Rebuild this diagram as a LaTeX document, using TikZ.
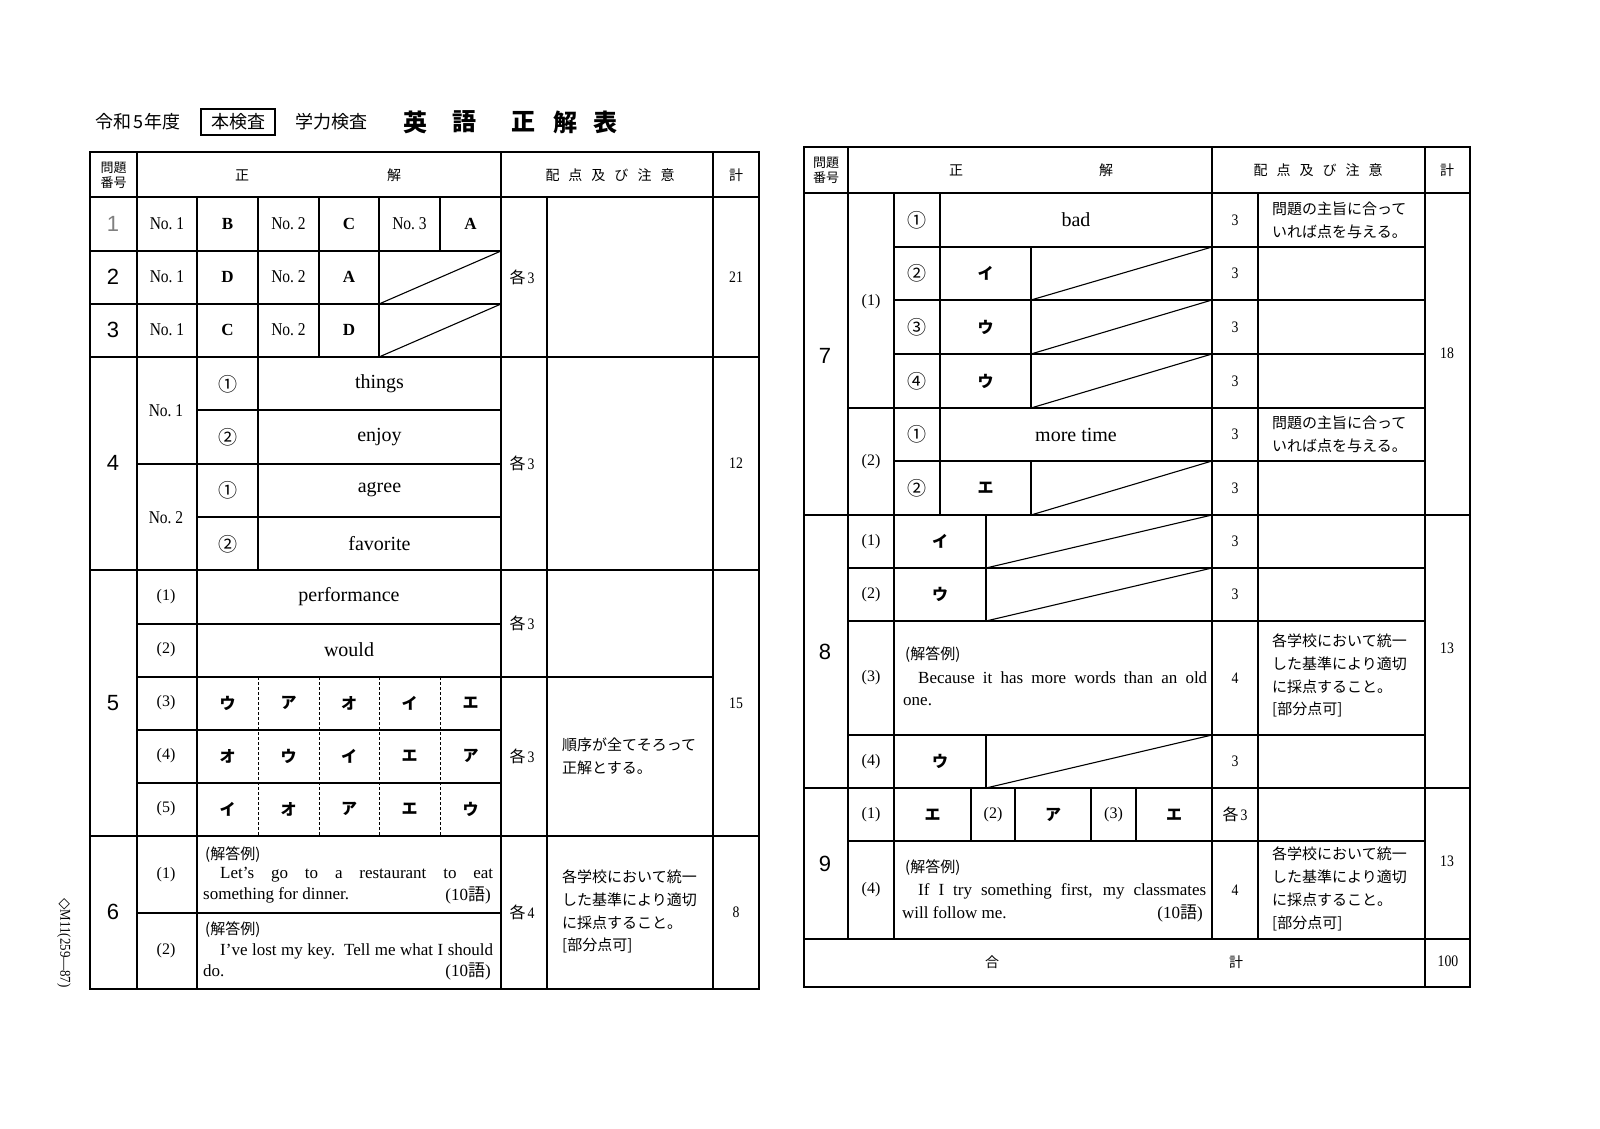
\documentclass[tikz,border=0pt]{standalone}
\usepackage{fontspec}
\setmainfont{Liberation Serif}
\newfontfamily\jp{Noto Sans CJK JP}
\newfontfamily\gs{Liberation Sans}
\newfontfamily\nar{Liberation Serif}[FakeStretch=0.86]
\newfontfamily\dvs{DejaVu Sans}
\tikzset{
  ln/.style={line width=1.1pt},
  lnm/.style={line width=1.5pt},
  lnb/.style={line width=2.4pt},
  lnd/.style={line width=0.8pt, dash pattern=on 3pt off 2pt},
  tx/.style={inner sep=0pt, anchor=center},
  lab/.style={tx, font=\nar\fontsize{18}{18}\selectfont},
  bl/.style={tx, font=\bfseries\fontsize{17}{17}\selectfont},
  wrd/.style={tx, font=\fontsize{20}{20}\selectfont},
  big/.style={tx, font=\gs\fontsize{22}{22}\selectfont},
  kana/.style={tx, font=\jp\bfseries\fontsize{16}{16}\selectfont},
  circ/.style={tx, font=\jp\fontsize{19}{19}\selectfont},
  sub/.style={tx, font=\fontsize{16}{16}\selectfont},
  pts/.style={tx, font=\nar\fontsize{16}{16}\selectfont},
  hdr/.style={tx, font=\jp\fontsize{14}{14}\selectfont},
  hdrq/.style={tx, align=center, font=\jp\fontsize{13}{15}\selectfont},
  note/.style={inner sep=0pt, anchor=west, align=left, font=\jp\fontsize{15}{22.9}\selectfont},
  engl/.style={inner sep=0pt, anchor=west, font=\fontsize{17}{17}\selectfont},
  engr/.style={inner sep=0pt, anchor=east, font=\fontsize{17}{17}\selectfont},
  exl/.style={inner sep=0pt, anchor=west, font=\jp\fontsize{15}{15}\selectfont},
  ttl/.style={tx, font=\jp\fontsize{18}{18}\selectfont},
  ttlb/.style={tx, font=\jp\bfseries\fontsize{24}{24}\selectfont},
}
\newcommand{\kaku}[1]{{\jp 各}\hspace{2pt}#1}
\newcommand{\tenw}{(10{\jp 語})}
\newcommand{\bubun}{{[}部分点可{]}}
\begin{document}
\begin{tikzpicture}[x=1pt,y=-1pt]
\useasboundingbox (0,0) rectangle (1600,1129);
\fill[white] (0,0) rectangle (1600,1129);

% ---------- title ----------
\node[ttl] (t0) at (138,122) {令和\hspace{2pt}5\hspace{2pt}年度};
\draw[ln] (201,109) rectangle (275,135);
\node[ttl] (t1) at (238,122) {本検査};
\node[ttl] (t2) at (331,122) {学力検査};
\node[ttlb] (t3) at (415,122) {英};
\node[ttlb] (t4) at (464,122) {語};
\node[ttlb] (t5) at (523,122) {正};
\node[ttlb] (t6) at (565,122) {解};
\node[ttlb] (t7) at (605,122) {表};

% ---------- left table lines ----------
\draw[ln] (547,197) -- (547,989);
\draw[ln] (713,152) -- (713,989);
\draw[ln] (197,197) -- (197,357) (258,197) -- (258,357) (319,197) -- (319,357)
          (379,197) -- (379,357) (440,197) -- (440,251);
\draw[ln] (379,304) -- (501,251) (379,357) -- (501,304);
\draw[ln] (197,357) -- (197,570) (258,357) -- (258,570);
\draw[ln] (197,410) -- (501,410) (137,464) -- (501,464) (197,517) -- (501,517);
\draw[ln] (197,570) -- (197,836);
\draw[ln] (137,624) -- (501,624) (137,677) -- (713,677) (137,730) -- (501,730) (137,783) -- (501,783);
\draw[lnd] (258,677) -- (258,836) (319,677) -- (319,836) (379,677) -- (379,836) (440,677) -- (440,836);
\draw[ln] (197,836) -- (197,989) (137,913) -- (501,913);
\draw[lnm] (137,152) -- (137,989);
\draw[lnb] (501,152) -- (501,989);
\draw[lnb] (90,197) -- (759,197);
\draw[lnb] (90,251) -- (501,251) (90,304) -- (501,304);
\draw[lnb] (90,357) -- (759,357) (90,570) -- (759,570) (90,836) -- (759,836);
\draw[lnb] (90,152) rectangle (759,989);

% ---------- left table header ----------
\node[hdrq] (lh1) at (113.5,175) {問題\\番号};
\node[hdr] (lh2) at (242,175) {正};
\node[hdr] (lh3) at (394,175) {解};
\node[hdr] (lh4) at (610,175) {配\hspace{9pt}点\hspace{9pt}及\hspace{9pt}び\hspace{9pt}注\hspace{9pt}意};
\node[hdr] (lh5) at (736,175) {計};

% ---------- rows 1-3 ----------
\node[big, text=gray] (q1) at (113,224) {1};
\node[lab] (q1a) at (167,224) {No.\ 1};
\node[bl] (q1b) at (227.5,224) {B};
\node[lab] (q1c) at (288.5,224) {No.\ 2};
\node[bl] (q1d) at (349,224) {C};
\node[lab] (q1e) at (409.5,224) {No.\ 3};
\node[bl] (q1f) at (470.5,224) {A};
\node[big] (q2) at (113,277) {2};
\node[lab] (q2a) at (167,277) {No.\ 1};
\node[bl] (q2b) at (227.5,277) {D};
\node[lab] (q2c) at (288.5,277) {No.\ 2};
\node[bl] (q2d) at (349,277) {A};
\node[big] (q3) at (113,330) {3};
\node[lab] (q3a) at (167,330) {No.\ 1};
\node[bl] (q3b) at (227.5,330) {C};
\node[lab] (q3c) at (288.5,330) {No.\ 2};
\node[bl] (q3d) at (349,330) {D};
\node[pts] (p13) at (522,277) {\kaku{3}};
\node[pts] (s13) at (736,277) {21};

% ---------- row 4 ----------
\node[big] (q4) at (113,463) {4};
\node[lab] (q4a) at (166,411) {No.\ 1};
\node[lab] (q4b) at (166,518) {No.\ 2};
\node[circ] (q4c1) at (227.5,384) {①};
\node[wrd] (q4w1) at (379.5,384) {things};
\node[circ] (q4c2) at (227.5,437) {②};
\node[wrd] (q4w2) at (379.5,437) {enjoy};
\node[circ] (q4c3) at (227.5,490) {①};
\node[wrd] (q4w3) at (379.5,490) {agree};
\node[circ] (q4c4) at (227.5,544) {②};
\node[wrd] (q4w4) at (379.5,544) {favorite};
\node[pts] (p4) at (522,463.5) {\kaku{3}};
\node[pts] (s4) at (736,463.5) {12};

% ---------- row 5 ----------
\node[big] (q5) at (113,703) {5};
\node[sub] (q5l1) at (166,597) {(1)};
\node[wrd] (q5w1) at (349,597) {performance};
\node[sub] (q5l2) at (166,650) {(2)};
\node[wrd] (q5w2) at (349,650) {would};
\node[sub] (q5l3) at (166,703) {(3)};
\node[kana] (k31) at (227.5,703) {ウ};
\node[kana] (k32) at (288.5,703) {ア};
\node[kana] (k33) at (349,703) {オ};
\node[kana] (k34) at (409.5,703) {イ};
\node[kana] (k35) at (470.5,703) {エ};
\node[sub] (q5l4) at (166,756) {(4)};
\node[kana] (k41) at (227.5,756) {オ};
\node[kana] (k42) at (288.5,756) {ウ};
\node[kana] (k43) at (349,756) {イ};
\node[kana] (k44) at (409.5,756) {エ};
\node[kana] (k45) at (470.5,756) {ア};
\node[sub] (q5l5) at (166,809) {(5)};
\node[kana] (k51) at (227.5,809) {イ};
\node[kana] (k52) at (288.5,809) {オ};
\node[kana] (k53) at (349,809) {ア};
\node[kana] (k54) at (409.5,809) {エ};
\node[kana] (k55) at (470.5,809) {ウ};
\node[pts] (p5a) at (522,623.5) {\kaku{3}};
\node[pts] (p5b) at (522,756.5) {\kaku{3}};
\node[note] (n5) at (562,756.5) {順序が全てそろって\\正解とする。};
\node[pts] (s5) at (736,703) {15};

% ---------- row 6 ----------
\node[big] (q6) at (113,912) {6};
\node[sub] (q6l1) at (166,875) {(1)};
\node[exl] (q6e1) at (205,855) {(解答例)};
\node[engl] (q6a1) at (220,875) {\makebox[273pt][s]{Let’s go to a restaurant to eat}};
\node[engl] (q6a2) at (203,895) {something for dinner.};
\node[engr] (q6a3) at (491,895) {\tenw};
\node[sub] (q6l2) at (166,951) {(2)};
\node[exl] (q6e2) at (205,930) {(解答例)};
\node[engl] (q6b1) at (220,951) {\makebox[273pt][s]{I’ve lost my key.\ \ Tell me what I should}};
\node[engl] (q6b2) at (203,971) {do.};
\node[engr] (q6b3) at (491,971) {\tenw};
\node[pts] (p6) at (522,912) {\kaku{4}};
\node[note] (n6) at (562,911.5) {各学校において統一\\した基準により適切\\に採点すること。\\\bubun};
\node[pts] (s6) at (736,912) {8};

% ---------- side code ----------
\node[tx, rotate=-90, font=\nar\fontsize{15}{15}\selectfont] (side) at (64,943) {{\dvs ◇}M11(259—87)};

% ---------- right table lines ----------
\draw[ln] (848,147) -- (848,939);
\draw[ln] (1258,193) -- (1258,939);
\draw[ln] (1425,147) -- (1425,987);
\draw[ln] (894,193) -- (894,515) (940,193) -- (940,515);
\draw[ln] (894,247) -- (1425,247) (894,300) -- (1425,300) (894,354) -- (1425,354)
          (848,408) -- (1425,408) (894,461) -- (1425,461);
\draw[ln] (1031,247) -- (1031,408) (1031,461) -- (1031,515);
\draw[ln] (1031,300) -- (1212,247) (1031,354) -- (1212,300) (1031,408) -- (1212,354) (1031,515) -- (1212,461);
\draw[ln] (894,515) -- (894,788);
\draw[ln] (848,568) -- (1425,568) (848,621) -- (1425,621) (848,735) -- (1425,735);
\draw[ln] (986,515) -- (986,621) (986,735) -- (986,788);
\draw[ln] (986,568) -- (1212,515) (986,621) -- (1212,568) (986,788) -- (1212,735);
\draw[ln] (894,788) -- (894,939) (848,841) -- (1425,841);
\draw[ln] (971,788) -- (971,841) (1015,788) -- (1015,841) (1091,788) -- (1091,841) (1136,788) -- (1136,841);
\draw[lnb] (1212,147) -- (1212,939);
\draw[lnb] (804,193) -- (1470,193);
\draw[lnb] (804,515) -- (1470,515) (804,788) -- (1470,788) (804,939) -- (1470,939);
\draw[lnb] (804,147) rectangle (1470,987);

% ---------- right table header ----------
\node[hdrq] (rh1) at (826,170) {問題\\番号};
\node[hdr] (rh2) at (956,170) {正};
\node[hdr] (rh3) at (1106,170) {解};
\node[hdr] (rh4) at (1318,170) {配\hspace{9pt}点\hspace{9pt}及\hspace{9pt}び\hspace{9pt}注\hspace{9pt}意};
\node[hdr] (rh5) at (1447,170) {計};

% ---------- row 7 ----------
\node[big] (q7) at (825,356) {7};
\node[sub] (q7l1) at (871,302) {(1)};
\node[sub] (q7l2) at (871,462) {(2)};
\node[circ] (q7c1) at (917,220) {①};
\node[wrd] (q7w1) at (1076,220) {bad};
\node[circ] (q7c2) at (917,273.5) {②};
\node[kana] (q7k2) at (985.5,273.5) {イ};
\node[circ] (q7c3) at (917,327) {③};
\node[kana] (q7k3) at (985.5,327) {ウ};
\node[circ] (q7c4) at (917,381) {④};
\node[kana] (q7k4) at (985.5,381) {ウ};
\node[circ] (q7c5) at (917,434.5) {①};
\node[wrd] (q7w5) at (1076,434.5) {more time};
\node[circ] (q7c6) at (917,488) {②};
\node[kana] (q7k6) at (985.5,488) {エ};
\node[pts] (p71) at (1235,220) {3};
\node[pts] (p72) at (1235,273.5) {3};
\node[pts] (p73) at (1235,327) {3};
\node[pts] (p74) at (1235,381) {3};
\node[pts] (p75) at (1235,434.5) {3};
\node[pts] (p76) at (1235,488) {3};
\node[note] (n71) at (1272,220) {問題の主旨に合って\\いれば点を与える。};
\node[note] (n72) at (1272,434.5) {問題の主旨に合って\\いれば点を与える。};
\node[pts] (s7) at (1447,353) {18};

% ---------- row 8 ----------
\node[big] (q8) at (825,652) {8};
\node[sub] (q8l1) at (871,541.5) {(1)};
\node[kana] (q8k1) at (940,541.5) {イ};
\node[sub] (q8l2) at (871,594.5) {(2)};
\node[kana] (q8k2) at (940,594.5) {ウ};
\node[sub] (q8l3) at (871,678) {(3)};
\node[exl] (q8e) at (905,655) {(解答例)};
\node[engl] (q8a1) at (918,678) {\makebox[289pt][s]{Because it has more words than an old}};
\node[engl] (q8a2) at (903,702) {one.};
\node[sub] (q8l4) at (871,761.5) {(4)};
\node[kana] (q8k4) at (940,761.5) {ウ};
\node[pts] (p81) at (1235,541.5) {3};
\node[pts] (p82) at (1235,594.5) {3};
\node[pts] (p83) at (1235,678) {4};
\node[pts] (p84) at (1235,761.5) {3};
\node[note] (n8) at (1272,675.5) {各学校において統一\\した基準により適切\\に採点すること。\\\bubun};
\node[pts] (s8) at (1447,648) {13};

% ---------- row 9 ----------
\node[big] (q9) at (825,864) {9};
\node[sub] (q9l1) at (871,814.5) {(1)};
\node[kana] (q9k1) at (932.5,814.5) {エ};
\node[sub] (q9l2) at (993,814.5) {(2)};
\node[kana] (q9k2) at (1053,814.5) {ア};
\node[sub] (q9l3) at (1113.5,814.5) {(3)};
\node[kana] (q9k3) at (1174,814.5) {エ};
\node[sub] (q9l4) at (871,890) {(4)};
\node[exl] (q9e) at (905,868) {(解答例)};
\node[engl] (q9a1) at (918,891) {\makebox[288pt][s]{If I try something first, my classmates}};
\node[engl] (q9a2) at (902,913) {will follow me.};
\node[engr] (q9a3) at (1203,913) {\tenw};
\node[pts] (p91) at (1235,814.5) {\kaku{3}};
\node[pts] (p92) at (1235,890) {4};
\node[note] (n9) at (1272,889) {各学校において統一\\した基準により適切\\に採点すること。\\\bubun};
\node[pts] (s9) at (1447,861) {13};

% ---------- total ----------
\node[hdr] (tt1) at (992,962) {合};
\node[hdr] (tt2) at (1236,962) {計};
\node[pts] (tt3) at (1448,961) {100};
\end{tikzpicture}
\end{document}
